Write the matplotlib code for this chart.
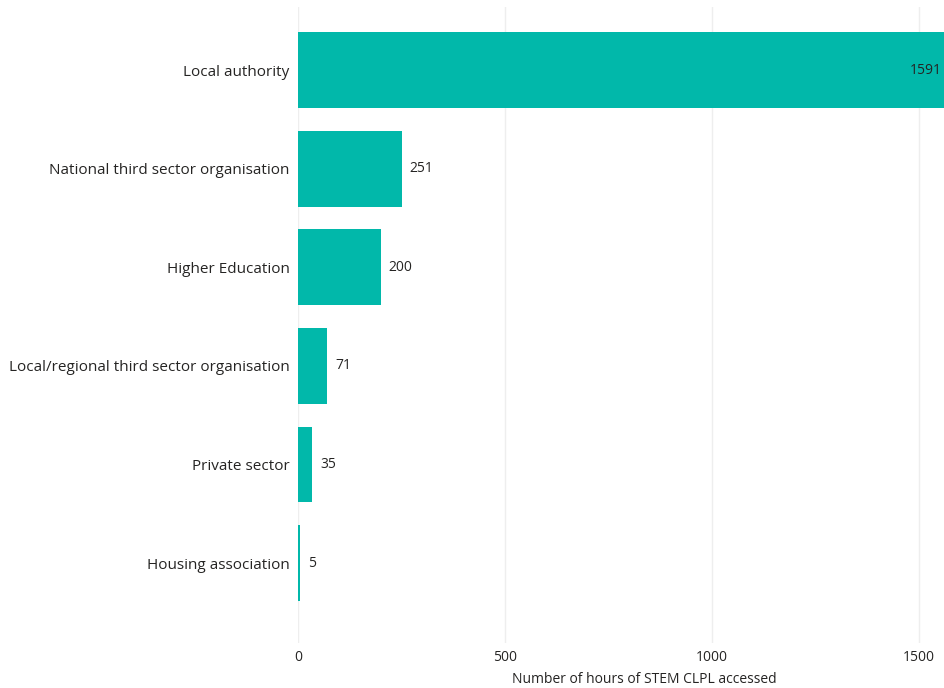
import matplotlib.pyplot as plt

plt.rcParams['font.family'] = ['Open Sans', 'DejaVu Sans']

categories = [
    "Local authority",
    "National third sector organisation",
    "Higher Education",
    "Local/regional third sector organisation",
    "Private sector",
    "Housing association",
]
hours = [1591, 251, 200, 71, 35, 5]
x_ticks = [0, 500, 1000, 1500]

bar_color = "#01B8AA"
text_color = "#252423"

fig = plt.figure(figsize=(9.45, 6.88), dpi=100)
ax = fig.add_axes([298 / 945, 1 - 643 / 688, 647 / 945, 636 / 688])

pos = list(range(len(categories)))
ax.barh(pos, hours, height=0.77, color=bar_color, zorder=2)

ax.set_xlim(0, 1563)
ax.set_ylim(5.81, -0.64)

# value labels: outside the bar unless it runs off the axis
xmax = ax.get_xlim()[1]
for y, v in zip(pos, hours):
    if v > xmax * 0.9:
        ax.annotate(str(v), (v, y), xytext=(-11, 0), textcoords="offset points",
                    ha="right", va="center", fontsize=10, color=text_color,
                    annotation_clip=False)
    else:
        ax.annotate(str(v), (v, y), xytext=(5.5, 0), textcoords="offset points",
                    ha="left", va="center", fontsize=10, color=text_color)

ax.set_yticks(pos)
ax.set_yticklabels(categories, fontsize=11, color=text_color)
ax.set_xticks(x_ticks)
ax.set_xticklabels([str(t) for t in x_ticks], fontsize=10, color=text_color)
ax.tick_params(axis="both", length=0)
ax.tick_params(axis="y", pad=6)
ax.tick_params(axis="x", pad=5)

ax.grid(axis="x", color="#EEEEEE", linewidth=1, zorder=0)
for s in ax.spines.values():
    s.set_visible(False)

ax.set_xlabel("Number of hours of STEM CLPL accessed", fontsize=10, color=text_color)
ax.xaxis.set_label_coords(0.535, -0.045)

fig.savefig("out.png", dpi=100)
